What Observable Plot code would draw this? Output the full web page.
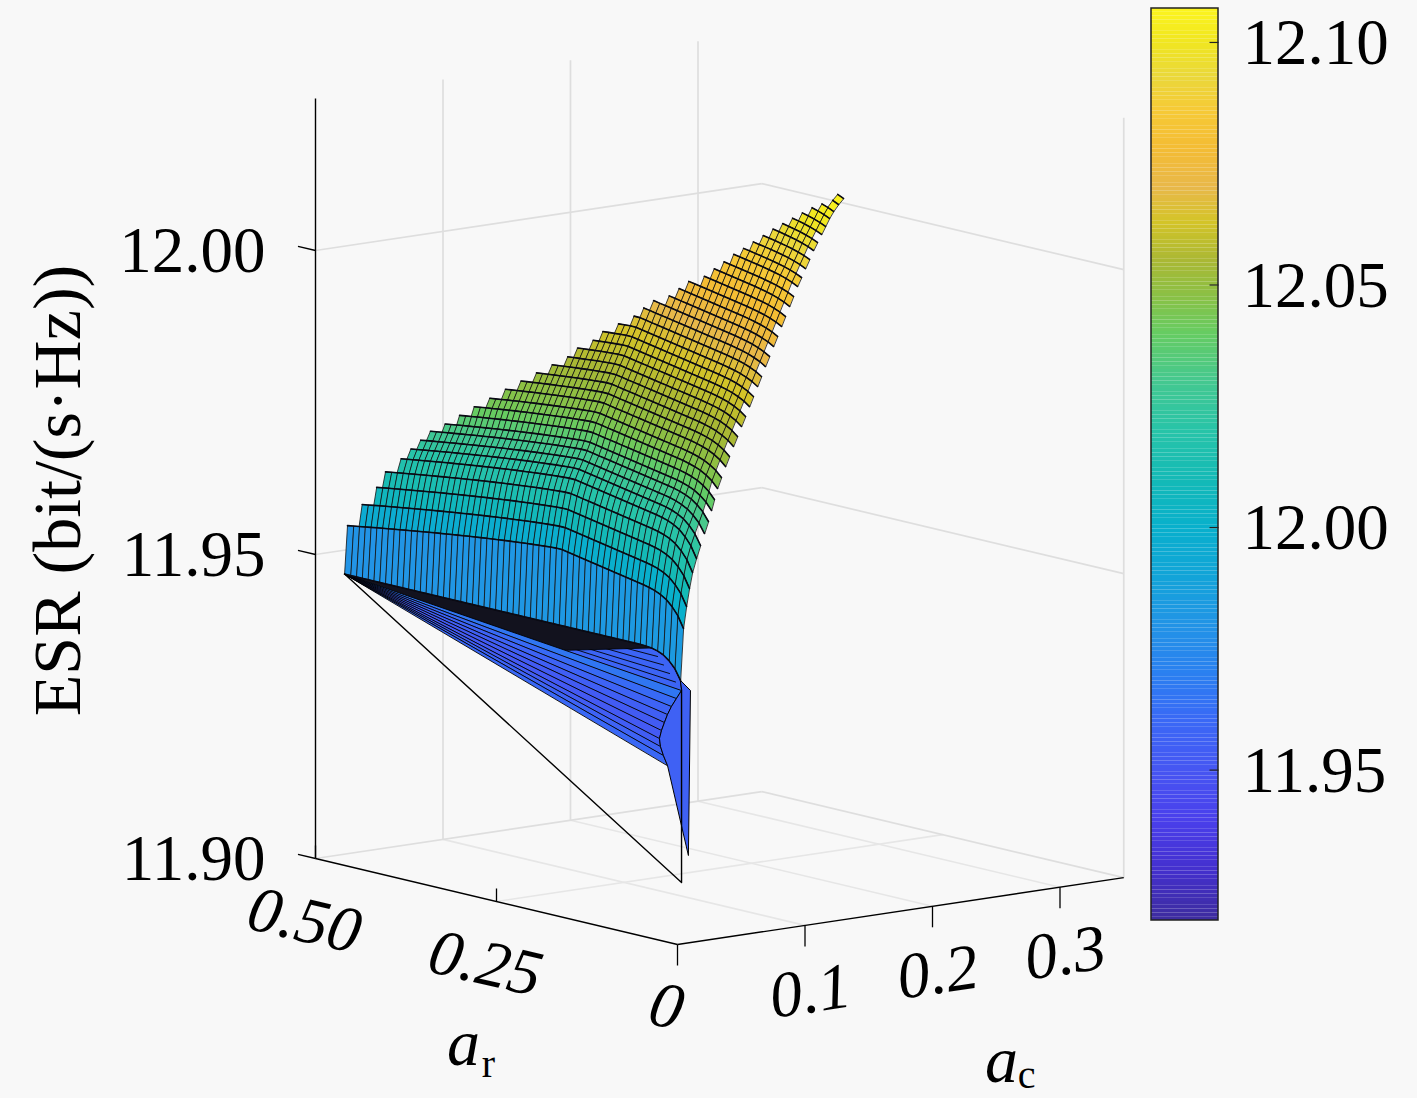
<!DOCTYPE html>
<html><head><meta charset="utf-8">
<script src="https://cdn.jsdelivr.net/npm/d3@7"></script>
<script src="https://cdn.jsdelivr.net/npm/@observablehq/plot@0.6"></script>
<style>
html,body{margin:0;padding:0;background:#f8f8f8;}
#chart{width:1417px;height:1098px;}
</style></head><body><div id="chart"></div>
<script>
// ---------------- data ----------------
// surface columns: a_r values
const arGrid = [0.030,0.038,0.046,0.054,0.062,0.070,0.078,0.086,0.094,0.102,0.110,0.118,0.126,0.134,0.142,0.150,0.158,0.166,0.174,0.182,0.190,0.198,0.206,0.214,0.222,0.230,0.238,0.246,0.254,0.262,0.270,0.278,0.286,0.294,0.302,0.310,0.318,0.326,0.334,0.342,0.350,0.358,0.366,0.374,0.382,0.390,0.398,0.406,0.414,0.422,0.430,0.438,0.446,0.454,0.462,0.470,0.478,0.486,0.494];
// column profile of ESR (offset) along a_r
const zCol = [0.00072,0.00090,0.00108,0.00127,0.00145,0.00163,0.00182,0.00200,0.00218,0.00237,0.00255,0.00273,0.00291,0.00310,0.00328,0.00346,0.00364,0.00383,0.00401,0.00419,0.00438,0.00456,0.00458,0.00452,0.00445,0.00438,0.00429,0.00420,0.00411,0.00401,0.00391,0.00381,0.00370,0.00359,0.00347,0.00336,0.00324,0.00312,0.00299,0.00286,0.00274,0.00260,0.00247,0.00234,0.00220,0.00206,0.00192,0.00178,0.00164,0.00149,0.00135,0.00120,0.00105,0.00090,0.00074,0.00059,0.00043,0.00028,0.00012];
// drop of ESR at the small-a_r end
const zDroop = [-0.00437,-0.00263,-0.00156,-0.00082,-0.00041,-0.00016,-0.00005,0,0,0,0,0,0,0,0,0,0,0,0,0,0,0,0,0,0,0,0,0,0,0,0,0,0,0,0,0,0,0,0,0,0,0,0,0,0,0,0,0,0,0,0,0,0,0,0,0,0,0,0];
// colour offset along a_r
const colShade = [0,-0.00006,-0.00013,-0.00021,-0.00029,-0.00037,-0.00046,-0.00054,-0.00062,-0.00071,-0.00079,-0.00086,-0.00095,-0.00103,-0.00110,-0.00119,-0.00127,-0.00134,-0.00142,-0.00150,-0.00158,-0.00166,-0.00173,-0.00181,-0.00188,-0.00196,-0.00203,-0.00210,-0.00217,-0.00224,-0.00232,-0.00239,-0.00246,-0.00253,-0.00259,-0.00266,-0.00272,-0.00279,-0.00286,-0.00292,-0.00298,-0.00304,-0.00310,-0.00316,-0.00322,-0.00328,-0.00334,-0.00340,-0.00345,-0.00350,-0.00356,-0.00361,-0.00367,-0.00372,-0.00377,-0.00382,-0.00386,-0.00391,-0.00396];
// surface rows: a_c value, ESR level, profile weights, last column index
const acRows = [0.0194,0.0217,0.0241,0.0264,0.0288,0.0319,0.0351,0.0382,0.0413,0.0437,0.0460,0.0484,0.0515,0.0547,0.0578,0.0609,0.0641,0.0672,0.0704,0.0735,0.0766,0.0798,0.0829,0.0860,0.0892,0.0923,0.0955,0.0986,0.1017,0.1049,0.1080,0.1111,0.1143,0.1174,0.1206,0.1237,0.1268,0.1300,0.1331,0.1362,0.1394,0.1433,0.1472];
const zRow = [11.94634,11.95411,11.95765,11.96054,11.96309,11.96530,11.96689,11.96832,11.96977,11.97106,11.97258,11.97411,11.97559,11.97716,11.97863,11.98009,11.98155,11.98300,11.98447,11.98591,11.98738,11.98884,11.99034,11.99184,11.99335,11.99485,11.99636,11.99786,11.99941,12.00095,12.00241,12.00396,12.00524,12.00662,12.00797,12.00935,12.01057,12.01179,12.01301,12.01423,12.01528,12.01630,12.01717];
const rowBend = [0,1,1,1,1,1,1,1,1,1,1,1,1,1,1,1,1,1,1,1,1,1,1,1,1,1,1,1,1,1,1,1,1,1,1,1,1,1,1,1,1,1,1];
const rowDroop = [1,1,1,1,1,1,0.9,0.8,0.7,0.6,0.55,0.5,0.45,0.42,0.4,0.38,0.36,0.34,0.32,0.3,0.28,0.26,0.25,0.24,0.23,0.22,0.21,0.2,0.2,0.2,0.18,0.18,0.16,0.16,0.15,0.15,0.15,0.15,0.15,0.15,0.15,0.15,0.15];
const rowEnd = [58,58,56,54,53,51,50,49,48,46,44,42,40,38,36,34,32,30,29,27,26,24,22,21,20,18,17,16,14,13,12,11,10,9,8,7,6,5,4,3,2,1,1];
// first column of each band (right-edge staircase)
const bandStart = [0,0,0,0,0,0,1,0,1,0,1,0,1,0,1,0,1,0,1,0,1,0,1,0,1,0,1,0,1,0,1,0,1,0,1,0,1,0,0,0,0,0];
// colour (ESR) of each band between consecutive rows
const bandESR = [11.984,12.000,12.010,12.016,12.020,12.023,12.027,12.031,12.035,12.039,12.043,12.046,12.049,12.051,12.053,12.055,12.057,12.059,12.061,12.063,12.065,12.067,12.069,12.071,12.073,12.075,12.077,12.079,12.081,12.083,12.085,12.087,12.089,12.091,12.093,12.095,12.097,12.099,12.101,12.103,12.104,12.105];
// folded lower part: end points at a_r = 0.03
const fanAc = [0.0202,0.0162,0.0123,0.0092,0.0068,0.0045,0.0029,0.0037,0.0060,0.0092];
const fanZ = [11.94029,11.93910,11.93791,11.93669,11.93545,11.93421,11.93294,11.93160,11.93005,11.92830];
const fanESR = [11.966,11.961,11.957,11.955,11.953,11.952,11.954,11.957,11.960];
const underESR = 11.958;
// dark fold below the lowest band: inner node and the column where it closes
const foldAr = 0.198, foldAc = 0.0194, foldZ = 11.94214, foldEndCol = 5;
const spikeAc = [0.0272,0.0256];
const spikeZ = [11.94007,11.91298];
const spikeESR = 11.956;
const wireAc = [0.0202];
const wireZ = [11.90872];
const edgeAr = 0.03;
// axes
const arLim = [0, 0.5], acLim = [0, 0.35], zLim = [11.90, 12.025];
const zTicks = [11.90, 11.95, 12.00];
const zTickLabels = ["11.90", "11.95", "12.00"];
const arTicks = [0, 0.25, 0.5];
const arTickLabels = ["0", "0.25", "0.50"];
const acTicks = [0, 0.1, 0.2, 0.3];
const acTickLabels = ["", "0.1", "0.2", "0.3"];
const cbTicks = [11.95, 12.00, 12.05, 12.10];
const cbTickLabels = ["11.95", "12.00", "12.05", "12.10"];
const cbLim = [11.919, 12.107];
const colorStops = [11.919,11.930,11.940,11.950,11.960,11.970,11.980,11.990,12.000,12.010,12.020,12.030,12.040,12.048,12.055,12.063,12.070,12.078,12.086,12.093,12.100,12.107];
const colorRange = ["#3d2c9e","#4430d0","#4a40ec","#4656f2","#3a68f6","#2a80f0","#2294e6","#12a4d8","#08b0cc","#14bab6","#28c4a8","#44c890","#66cc62","#8cc044","#aab834","#d4c428","#e8b84a","#f4bc34","#f6ca36","#ead83a","#f0e620","#fcf51e"];

// ---------------- view (camera) ----------------
const W = 1417, H = 1098;
const view = {ox: 677, oy: 944, arX: -724, arY: -172, acX: 1275, acY: -191, zY: -6080, z0: 11.90};
const P = (ar, ac, z) => [view.ox + view.arX * ar + view.acX * ac, view.oy + view.arY * ar + view.acY * ac + view.zY * (z - view.z0)];
const cb = {x1: 1151, x2: 1218, top: 8, bottom: 920};
const cbY = v => cb.bottom - (v - cbLim[0]) / (cbLim[1] - cbLim[0]) * (cb.bottom - cb.top);
const FONT = "'Liberation Serif', 'Times New Roman', serif";

// ---------------- build tables ----------------
const nodeZ = (r, k) => zRow[r] + rowBend[r] * zCol[k] + rowDroop[r] * zDroop[k];
const nodeXY = (r, k) => P(arGrid[k], acRows[r], nodeZ(r, k));

const cells = [];
for (let r = bandESR.length - 1; r >= 0; r--) {
  const kmax = Math.min(rowEnd[r], rowEnd[r + 1]);
  for (let k = bandStart[r]; k < kmax; k++) {
    const id = `c${r}_${k}`, v = bandESR[r] + colShade[k];
    for (const [rr, kk] of [[r, k], [r, k + 1], [r + 1, k + 1], [r + 1, k]]) {
      const [x, y] = nodeXY(rr, kk);
      cells.push({id, x, y, v});
    }
  }
}
const rowLines = [];
for (let r = 0; r < acRows.length; r++) {
  const below = r > 0 ? bandStart[r - 1] : Infinity;
  const above = r < bandStart.length ? bandStart[r] : Infinity;
  for (let k = Math.min(below, above); k <= rowEnd[r]; k++) {
    const [x, y] = nodeXY(r, k);
    rowLines.push({id: r, x, y});
  }
}
const P0 = nodeXY(0, rowEnd[0]);
const R0end = nodeXY(0, 0);
const fanXY = fanAc.map((ac, i) => P(edgeAr, ac, fanZ[i]));
const foldXY = P(foldAr, foldAc, foldZ);
const foldEnd = nodeXY(0, foldEndCol);
// blue underside below the lowest band
const under = [];
for (let k = rowEnd[0]; k >= 0; k--) { const [x, y] = nodeXY(0, k); under.push({x, y, v: underESR}); }
under.push({x: fanXY[0][0], y: fanXY[0][1], v: underESR});
// lines of the underside converging at the left corner
const foldLines = [0.2, 0.4, 0.6, 0.8].map((t, i) => {
  const e = [fanXY[0][0] + (foldEnd[0] - fanXY[0][0]) * t, fanXY[0][1] + (foldEnd[1] - fanXY[0][1]) * t];
  return [{id: i, x: P0[0], y: P0[1]}, {id: i, x: e[0], y: e[1]}];
}).flat();
// dark fold (dense edges seen edge-on)
const dark = [];
for (let k = rowEnd[0]; k >= foldEndCol; k--) { const [x, y] = nodeXY(0, k); dark.push({x, y}); }
dark.push({x: foldXY[0], y: foldXY[1]});
// fan triangles
const fan = [];
fanESR.forEach((v, i) => {
  for (const p of [P0, fanXY[i], fanXY[i + 1]]) fan.push({id: i, x: p[0], y: p[1], v});
});
// spike
const spikeXY = spikeAc.map((ac, i) => P(edgeAr, ac, spikeZ[i]));
const spikePts = [R0end, spikeXY[0], spikeXY[1], ...fanXY.slice().reverse()];
const spike = spikePts.map(p => ({x: p[0], y: p[1], v: spikeESR}));
// wire triangle
const wireXY = P(edgeAr, wireAc[0], wireZ[0]);
const wire = [P0, wireXY, fanXY[0]].map(p => ({x: p[0], y: p[1]}));

// grid / box
const seg = (a, b) => ({x1: a[0], y1: a[1], x2: b[0], y2: b[1]});
const wallGrid = [], floorGrid = [];
for (const ac of acTicks.filter(t => t > 0)) wallGrid.push(seg(P(arLim[1], ac, zLim[0]), P(arLim[1], ac, zLim[1])));
wallGrid.push(seg(P(arLim[0], acLim[1], zLim[0]), P(arLim[0], acLim[1], zLim[1])));
for (const z of zTicks) {
  wallGrid.push(seg(P(arLim[1], acLim[0], z), P(arLim[1], acLim[1], z)));
  wallGrid.push(seg(P(arLim[1], acLim[1], z), P(arLim[0], acLim[1], z)));
}
for (const ac of acTicks.filter(t => t > 0)) floorGrid.push(seg(P(arLim[0], ac, zLim[0]), P(arLim[1], ac, zLim[0])));
for (const ar of arTicks.filter(t => t > 0 && t < arLim[1])) floorGrid.push(seg(P(ar, acLim[0], zLim[0]), P(ar, acLim[1], zLim[0])));
const axes = [
  seg(P(arLim[1], 0, zLim[0]), P(arLim[0], 0, zLim[0])),
  seg(P(0, acLim[0], zLim[0]), P(0, acLim[1], zLim[0])),
  seg(P(arLim[1], 0, zLim[0]), P(arLim[1], 0, zLim[1]))
];
const ticks = [];
for (const z of zTicks) { const p = P(arLim[1], 0, z); ticks.push(seg(p, [p[0] - 17.5, p[1] - 4.2])); }
for (const ar of arTicks.filter(t => t > 0)) { const p = P(ar, 0, zLim[0]); ticks.push(seg(p, [p[0], p[1] - 13])); }
for (const ac of acTicks) { const p = P(0, ac, zLim[0]); ticks.push(seg(p, [p[0], p[1] + 21])); }
const zLab = zTicks.map((z, i) => { const p = P(arLim[1], 0, z); return {x: p[0] - 50, y: p[1] + 1, t: zTickLabels[i]}; });
const arLab = arTicks.map((a, i) => { const p = P(a, 0, zLim[0]); return {x: p[0] - 11, y: p[1] + 62, t: arTickLabels[i]}; });
const acLab = acTicks.map((a, i) => { const p = P(0, a, zLim[0]); return {x: p[0] - 35, y: p[1] + 72, t: acTickLabels[i]}; }).filter(d => d.t);

// colorbar
const cbN = 240, cbStep = (cbLim[1] - cbLim[0]) / cbN;
const cbRects = d3.range(cbN).map(i => {
  const lo = cbLim[0] + i * cbStep;
  return {y1: cbY(lo), y2: cbY(lo + cbStep), v: lo + cbStep / 2};
});
const cbTickSeg = cbTicks.map(v => ({x1: cb.x2 - 9, x2: cb.x2, y1: cbY(v), y2: cbY(v)}));
const cbLab = cbTicks.map((v, i) => ({x: 1242, y: cbY(v) + 1, t: cbTickLabels[i]}));

const chart = Plot.plot({
  width: W, height: H,
  marginTop: 0, marginRight: 0, marginBottom: 0, marginLeft: 0,
  x: {domain: [0, W], range: [0, W], axis: null},
  y: {domain: [0, H], range: [0, H], axis: null},
  color: {type: "linear", domain: colorStops, range: colorRange, clamp: true},
  style: {background: "#f8f8f8", overflow: "visible"},
  marks: [
    Plot.link(floorGrid, {x1: "x1", y1: "y1", x2: "x2", y2: "y2", stroke: "#e6e6e6", strokeWidth: 1.6}),
    Plot.link(wallGrid, {x1: "x1", y1: "y1", x2: "x2", y2: "y2", stroke: "#dedede", strokeWidth: 1.7}),
    Plot.line(under, {x: "x", y: "y", fill: "v", stroke: "#000", strokeWidth: 0.9, curve: "linear-closed"}),
    Plot.line(foldLines, {x: "x", y: "y", z: "id", stroke: "#000", strokeWidth: 0.9}),
    Plot.line(dark, {x: "x", y: "y", fill: "#12121e", stroke: "#000", strokeWidth: 0.8, curve: "linear-closed"}),
    Plot.line(fan, {x: "x", y: "y", z: "id", fill: "v", stroke: "#000", strokeWidth: 0.9, curve: "linear-closed"}),
    Plot.line(spike, {x: "x", y: "y", fill: "v", stroke: "#000", strokeWidth: 1, curve: "linear-closed"}),
    Plot.line(cells, {x: "x", y: "y", z: "id", fill: "v", stroke: "#111", strokeWidth: 0.8, curve: "linear-closed"}),
    Plot.line(rowLines, {x: "x", y: "y", z: "id", stroke: "#0a0a14", strokeWidth: 1.6}),
    Plot.line(wire, {x: "x", y: "y", stroke: "#000", strokeWidth: 1.4}),
    Plot.link(axes, {x1: "x1", y1: "y1", x2: "x2", y2: "y2", stroke: "#000", strokeWidth: 1.4}),
    Plot.link(ticks, {x1: "x1", y1: "y1", x2: "x2", y2: "y2", stroke: "#000", strokeWidth: 1.3}),
    Plot.text(zLab, {x: "x", y: "y", text: "t", textAnchor: "end", lineAnchor: "middle", fontSize: 65, fontFamily: FONT, fill: "#000"}),
    Plot.text(arLab, {x: "x", y: "y", text: "t", textAnchor: "middle", lineAnchor: "middle", fontSize: 65, fontFamily: FONT, fontStyle: "italic", rotate: 13, fill: "#000"}),
    Plot.text(acLab, {x: "x", y: "y", text: "t", textAnchor: "start", lineAnchor: "middle", fontSize: 65, fontFamily: FONT, fontStyle: "italic", rotate: -8.5, fill: "#000"}),
    Plot.text([{x: 463, y: 1043, t: "a"}, {x: 1001, y: 1060, t: "a"}], {x: "x", y: "y", text: "t", textAnchor: "middle", lineAnchor: "middle", fontSize: 66, fontFamily: FONT, fontStyle: "italic", fill: "#000"}),
    Plot.text([{x: 488, y: 1064, t: "r"}, {x: 1026, y: 1075, t: "c"}], {x: "x", y: "y", text: "t", textAnchor: "middle", lineAnchor: "middle", fontSize: 40, fontFamily: FONT, fill: "#000"}),
    Plot.text([{x: 58, y: 490, t: "ESR (bit/(s\u00B7Hz))"}], {x: "x", y: "y", text: "t", rotate: -90, textAnchor: "middle", lineAnchor: "middle", fontSize: 68, fontFamily: FONT, fill: "#000"}),
    Plot.rect(cbRects, {x1: () => cb.x1, x2: () => cb.x2, y1: "y1", y2: "y2", fill: "v"}),
    Plot.rect([0], {x1: () => cb.x1, x2: () => cb.x2, y1: () => cb.top, y2: () => cb.bottom, fill: "none", stroke: "#222", strokeWidth: 1.5}),
    Plot.link(cbTickSeg, {x1: "x1", y1: "y1", x2: "x2", y2: "y2", stroke: "#222", strokeWidth: 1.2}),
    Plot.text(cbLab, {x: "x", y: "y", text: "t", textAnchor: "start", lineAnchor: "middle", fontSize: 65, fontFamily: FONT, fill: "#000"})
  ]
});
document.getElementById("chart").appendChild(chart);
</script>
</body></html>
